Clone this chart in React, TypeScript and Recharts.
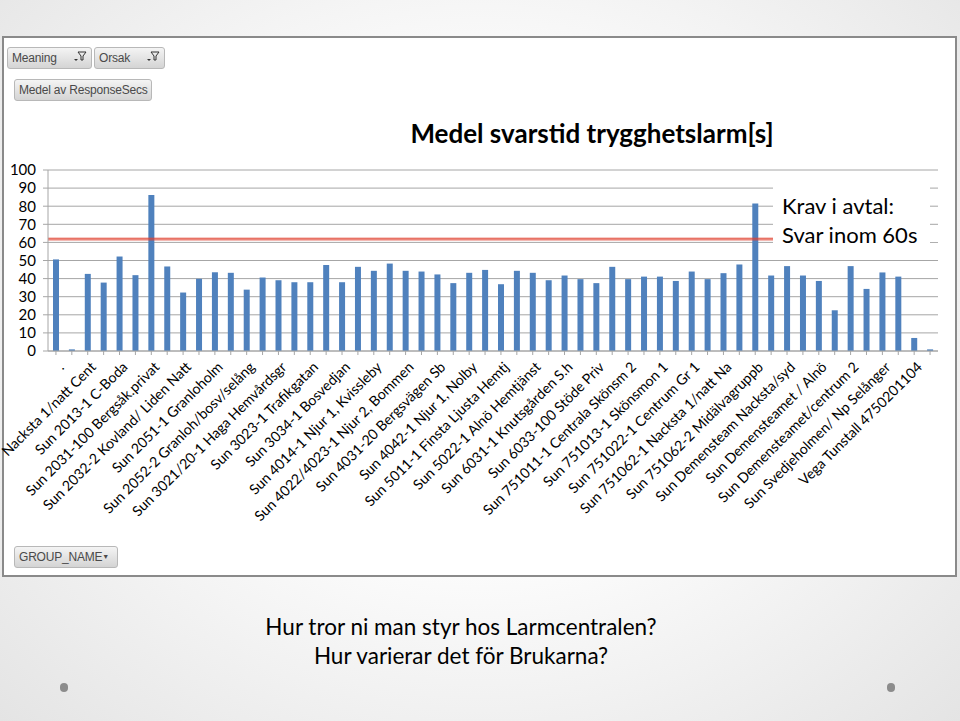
import React from "react";
import { BarChart, Bar, XAxis, YAxis, CartesianGrid, ReferenceLine } from "recharts";

// tick labels shown under every other bar
const groupLabels = [
  ".",
  "Nacksta 1/natt Cent",
  "Sun 2013-1 C-Boda",
  "Sun 2031-100 Bergsåk.privat",
  "Sun 2032-2 Kovland/ Liden Natt",
  "Sun 2051-1 Granloholm",
  "Sun 2052-2 Granloh/bosv/selång",
  "Sun 3021/20-1 Haga Hemvårdsgr",
  "Sun 3023-1 Trafikgatan",
  "Sun 3034-1 Bosvedjan",
  "Sun 4014-1 Njur 1, Kvissleby",
  "Sun 4022/4023-1 Njur 2, Bommen",
  "Sun 4031-20 Bergsvägen Sb",
  "Sun 4042-1 Njur 1, Nolby",
  "Sun 5011-1 Finsta Ljusta Hemtj",
  "Sun 5022-1 Alnö Hemtjänst",
  "Sun 6031-1 Knutsgården S.h",
  "Sun 6033-100 Stöde Priv",
  "Sun 751011-1 Centrala Skönsm 2",
  "Sun 751013-1 Skönsmon 1",
  "Sun 751022-1 Centrum Gr 1",
  "Sun 751062-1 Nacksta 1/natt Na",
  "Sun 751062-2 Midälvagruppb",
  "Sun Demensteam Nacksta/syd",
  "Sun Demensteamet / Alnö",
  "Sun Demensteamet/centrum 2",
  "Sun Svedjeholmen/ Np Selånger",
  "Vega Tunstall 4750201104",
];

// Medel av ResponseSecs, one per bar
const responseSecs = [
  50.6, 0.9, 42.6, 37.8, 52.2, 41.9, 86.2, 46.7, 32.3, 39.9,
  43.5, 43.2, 33.9, 40.6, 39.1, 38.0, 38.0, 47.5, 38.0, 46.5,
  44.3, 48.3, 44.3, 43.9, 42.3, 37.5, 43.2, 44.8, 36.9, 44.3,
  43.2, 39.1, 41.7, 39.7, 37.5, 46.5, 39.7, 41.1, 41.1, 38.7,
  43.9, 39.7, 43.0, 47.8, 81.5, 41.7, 46.9, 41.7, 38.7, 22.5,
  46.9, 34.3, 43.4, 41.1, 7.2, 0.9,
];

const yTicks = [0, 10, 20, 30, 40, 50, 60, 70, 80, 90, 100];
const kravLines = [62.3, 61.4];

const data = responseSecs.map((v, i) => ({
  idx: i,
  name: i % 2 === 0 ? groupLabels[i / 2] : "",
  value: v,
}));

const FONT = "Lato, 'Open Sans', sans-serif";

const AngledTick = (props: any) => {
  const { x, y, payload } = props;
  const label = data[payload.value]?.name;
  if (!label) return null;
  return (
    <text
      x={x + 9}
      y={y + 11}
      transform={`rotate(-45 ${x + 9} ${y + 11})`}
      textAnchor="end"
      fontSize={14.2}
      fontFamily={FONT}
      fill="#000"
    >
      {label}
    </text>
  );
};

const Funnel = () => (
  <svg width="14" height="12" style={{ position: "absolute", right: 4, top: 3 }}>
    <path d="M1 8 L3 10 L5 8 Z" fill="#333" />
    <path d="M5 1 L13 1 L10 5 L10 9 L8 9 L8 5 Z" fill="none" stroke="#333" strokeWidth="1" />
  </svg>
);

const PivotButton = ({ left, top, width, text, filter, arrow }: any) => (
  <div
    style={{
      position: "absolute",
      left,
      top,
      width,
      height: 22,
      boxSizing: "border-box",
      border: "1px solid #b8b8b8",
      borderRadius: 3,
      background: "linear-gradient(#f4f4f4, #d4d4d4)",
      fontFamily: "'Liberation Sans', sans-serif",
      fontSize: 12,
      color: "#4a4a4a",
      lineHeight: "20px",
      paddingLeft: 4,
      whiteSpace: "nowrap",
      letterSpacing: -0.2,
    }}
  >
    {text}
    {filter && <Funnel />}
    {arrow && (
      <span style={{ position: "absolute", right: 8, top: 0, fontSize: 7 }}>▼</span>
    )}
  </div>
);

export default function App() {
  return (
    <div
      style={{
        position: "absolute",
        left: 0,
        top: 0,
        width: 960,
        height: 721,
        overflow: "hidden",
        background: "radial-gradient(ellipse at 50% 45%, #ffffff 35%, #e4e4e4 100%)",
        fontFamily: FONT,
      }}
    >
      {/* chart sheet */}
      <div
        style={{
          position: "absolute",
          left: 2,
          top: 36,
          width: 955,
          height: 541,
          boxSizing: "border-box",
          border: "2px solid #8a8a8a",
          background: "#fff",
        }}
      />

      <PivotButton left={7} top={47} width={85} text="Meaning" filter />
      <PivotButton left={94} top={47} width={71} text="Orsak" filter />
      <PivotButton left={14} top={79} width={138} text="Medel av ResponseSecs" />
      <PivotButton left={14} top={546} width={104} text="GROUP_NAME" arrow />

      <div
        style={{
          position: "absolute",
          left: 342,
          width: 500,
          top: 117,
          textAlign: "center",
          fontWeight: 700,
          fontSize: 26,
          color: "#000",
        }}
      >
        Medel svarstid trygghetslarm[s]
      </div>

      <div style={{ position: "absolute", left: 0, top: 0 }}>
        <BarChart
          width={960}
          height={721}
          data={data}
          margin={{ top: 170, right: 22, bottom: 170, left: 0 }}
          barSize={6}
        >
          <CartesianGrid vertical={false} stroke="#a6a6a6" />
          <XAxis
            dataKey="idx"
            interval={0}
            height={200}
            tick={<AngledTick />}
            stroke="#a6a6a6"
            tickSize={4}
          />
          <YAxis
            domain={[0, 100]}
            ticks={yTicks}
            interval={0}
            width={48}
            stroke="#a6a6a6"
            tickSize={5}
            tick={{ fill: "#000", fontSize: 15, fontFamily: FONT, dx: -5 }}
          />
          {kravLines.map((v) => (
            <ReferenceLine key={v} y={v} stroke="#e0402f" strokeWidth={1} />
          ))}
          <Bar dataKey="value" fill="#4f81bd" isAnimationActive={false} />
        </BarChart>
      </div>

      {/* Krav text box */}
      <div
        style={{
          position: "absolute",
          left: 773,
          top: 181,
          width: 157,
          height: 74,
          background: "#fff",
        }}
      />
      <div style={{ position: "absolute", left: 930, top: 234, width: 9, height: 8, background: "#fff" }} />
      <div
        style={{
          position: "absolute",
          left: 782,
          top: 191,
          fontSize: 22,
          lineHeight: "29px",
          color: "#000",
          whiteSpace: "nowrap",
        }}
      >
        Krav i avtal:
        <br />
        Svar inom 60s
      </div>

      <div
        style={{
          position: "absolute",
          left: 0,
          width: 922,
          top: 612,
          textAlign: "center",
          fontSize: 22.5,
          lineHeight: "29px",
          color: "#000",
        }}
      >
        Hur tror ni man styr hos Larmcentralen?
        <br />
        Hur varierar det för Brukarna?
      </div>

      <div style={{ position: "absolute", left: 60, top: 683, width: 8, height: 9, borderRadius: 4, background: "#8c8c8c" }} />
      <div style={{ position: "absolute", left: 887, top: 683, width: 8, height: 9, borderRadius: 4, background: "#8c8c8c" }} />
    </div>
  );
}
